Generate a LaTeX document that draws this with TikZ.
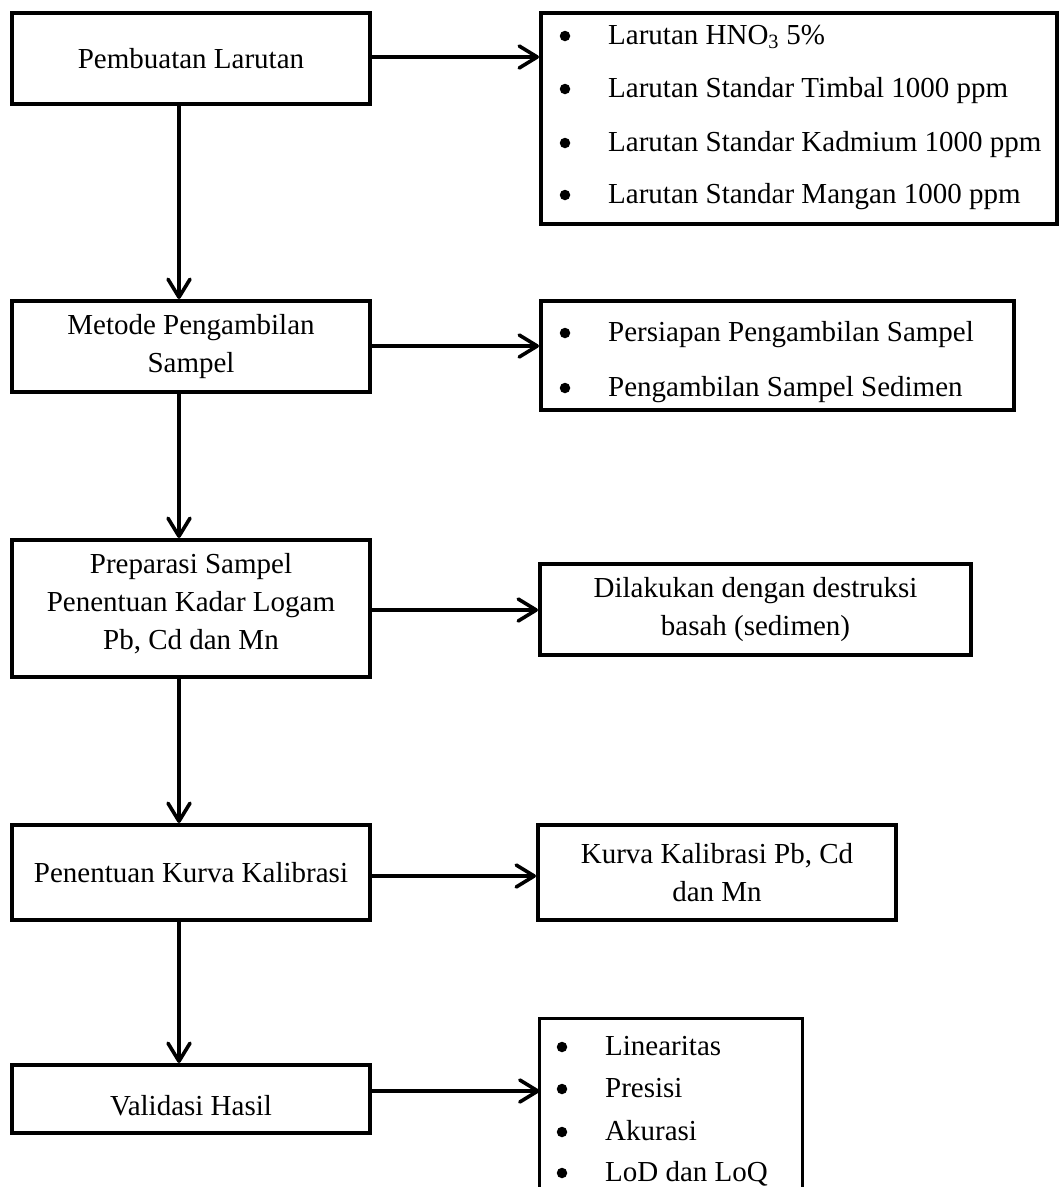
\documentclass[tikz,border=0pt]{standalone}
\usepackage{fontspec}
\setmainfont{Liberation Serif}
\usetikzlibrary{arrows.meta}
\begin{document}
\begin{tikzpicture}[x=1pt,y=-1pt,
  font=\fontsize{29}{38}\selectfont,
  box/.style={draw, line width=3.6pt, inner sep=0pt, align=center},
  border/.style={line width=3.6pt},
  item/.style={anchor=base west, inner sep=0pt},
  bul/.style={fill, circle, inner sep=0pt, minimum size=10.5pt},
  conn/.style={line width=3.6pt, -{Straight Barb[length=18pt,width=22pt,round]}}
]
\useasboundingbox (0,0) rectangle (1062,1187);

% left column
\node[box, minimum width=358.4pt, minimum height=91.4pt] (b1) at (191,58.5) {Pembuatan Larutan};
\node[box, minimum width=358.4pt, minimum height=91.4pt] (b2) at (191,346.5) {Metode Pengambilan\\Sampel};
\node[box, minimum width=358.4pt, minimum height=137.4pt] (b3) at (191,608.5) {Preparasi Sampel\\Penentuan Kadar Logam\\Pb, Cd dan Mn\rule[-15pt]{0pt}{15pt}};
\node[box, minimum width=358.4pt, minimum height=95.4pt] (b4) at (191,872.5) {Penentuan Kurva Kalibrasi};
\node[box, minimum width=358.4pt, minimum height=68.4pt] (b5) at (191,1099) {\rule{0pt}{34pt}Validasi Hasil};

% right column
\node[box, minimum width=516.4pt, minimum height=211.4pt] (r1) at (799,118.5) {};
\node[bul] (r1pa) at (565,36) {};
\node[bul] (r1pb) at (565,89) {};
\node[bul] (r1pc) at (565,143) {};
\node[bul] (r1pd) at (565,195) {};
\node[item] (r1a) at (608,44) {Larutan HNO\textsubscript{3} 5\%};
\node[item] (r1b) at (608,97) {Larutan Standar Timbal 1000 ppm};
\node[item] (r1c) at (608,151) {Larutan Standar Kadmium 1000 ppm};
\node[item] (r1d) at (608,203) {Larutan Standar Mangan 1000 ppm};

\node[box, minimum width=473.4pt, minimum height=109.4pt] (r2) at (777.5,355.5) {};
\node[bul] (r2pa) at (565,333) {};
\node[bul] (r2pb) at (565,388) {};
\node[item] (r2a) at (608,341) {Persiapan Pengambilan Sampel};
\node[item] (r2b) at (608,396) {Pengambilan Sampel Sedimen};

\node[box, minimum width=431.4pt, minimum height=91.4pt] (r3) at (755.5,609.5) {Dilakukan dengan destruksi\\basah (sedimen)};
\node[box, minimum width=358.4pt, minimum height=95.4pt] (r4) at (717,872.5) {Kurva Kalibrasi Pb, Cd\\dan Mn};

\node[inner sep=0pt, minimum width=262.4pt, minimum height=172pt] (r5) at (671,1104.8) {};
\draw[border] (r5.south west) -- (r5.north west) -- (r5.north east) -- (r5.south east);
\node[bul] (r5pa) at (562,1047) {};
\node[bul] (r5pb) at (562,1089) {};
\node[bul] (r5pc) at (562,1132) {};
\node[bul] (r5pd) at (562,1173) {};
\node[item] (r5a) at (605,1055) {Linearitas};
\node[item] (r5b) at (605,1097) {Presisi};
\node[item] (r5c) at (605,1140) {Akurasi};
\node[item] (r5d) at (605,1181) {LoD dan LoQ};

% connectors
\coordinate (vx) at (179,0);
\draw[conn] (b1.south -| vx) -- (b2.north -| vx);
\draw[conn] (b2.south -| vx) -- (b3.north -| vx);
\draw[conn] (b3.south -| vx) -- (b4.north -| vx);
\draw[conn] (b4.south -| vx) -- (b5.north -| vx);

\coordinate (h1) at (0,57);
\coordinate (h2) at (0,346);
\coordinate (h3) at (0,610);
\coordinate (h4) at (0,876);
\coordinate (h5) at (0,1091);
\draw[conn] (b1.east |- h1) -- (r1.west |- h1);
\draw[conn] (b2.east |- h2) -- (r2.west |- h2);
\draw[conn] (b3.east |- h3) -- (r3.west |- h3);
\draw[conn] (b4.east |- h4) -- (r4.west |- h4);
\draw[conn] (b5.east |- h5) -- (r5.west |- h5);
\end{tikzpicture}
\end{document}
